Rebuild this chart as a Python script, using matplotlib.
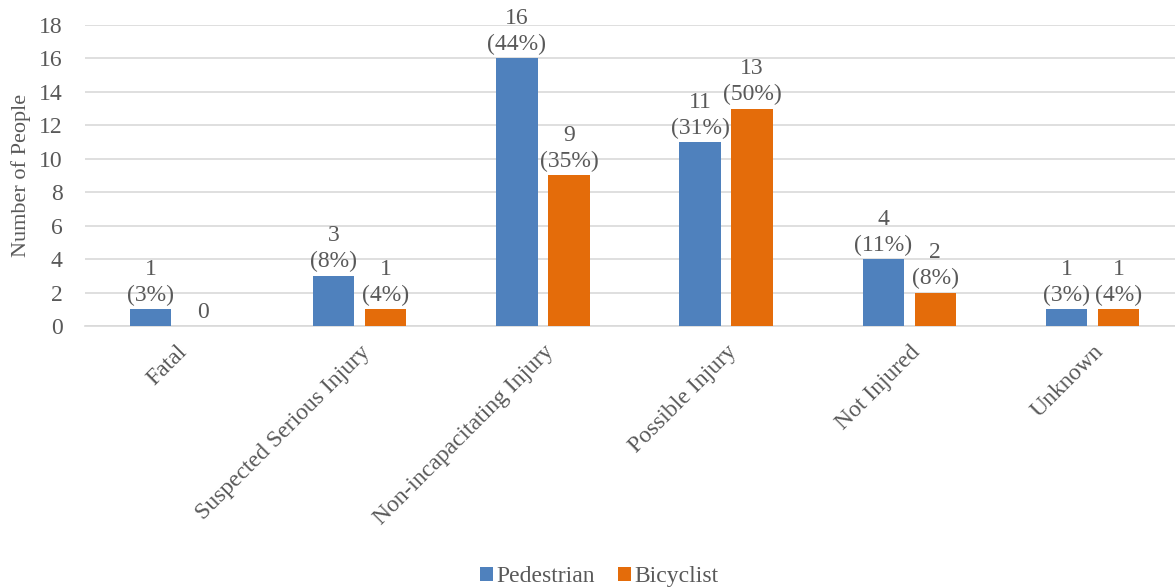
import matplotlib.pyplot as plt
import numpy as np

categories = ["Fatal", "Suspected Serious Injury", "Non-incapacitating Injury",
              "Possible Injury", "Not Injured", "Unknown"]
pedestrian = [1, 3, 16, 11, 4, 1]
bicyclist = [0, 1, 9, 13, 2, 1]
ped_pct = ["3%", "8%", "44%", "31%", "11%", "3%"]
bic_pct = [None, "4%", "35%", "50%", "8%", "4%"]

plt.rcParams['font.family'] = ['Liberation Serif', 'DejaVu Serif']
txt = '#595959'
blue = '#4F81BD'
orange = '#E46C0A'
fs = 17

fig = plt.figure(figsize=(11.75, 5.88), dpi=100)
ax = fig.add_axes([0.0723, 0.4456, 0.9354, 0.512])

x = np.arange(len(categories))
w = 0.225
off = 0.142
b1 = ax.bar(x - off, pedestrian, w, color=blue, label="Pedestrian", zorder=3)
b2 = ax.bar(x + off, bicyclist, w, color=orange, label="Bicyclist", zorder=3)

for i in range(len(categories)):
    ax.text(x[i] - off, pedestrian[i] + 0.2, "%d\n(%s)" % (pedestrian[i], ped_pct[i]),
            ha='center', va='bottom', fontsize=fs, color=txt, linespacing=1.3)
    if bic_pct[i] is None:
        lab = "%d" % bicyclist[i]
    else:
        lab = "%d\n(%s)" % (bicyclist[i], bic_pct[i])
    ax.text(x[i] + off, bicyclist[i] + 0.2, lab,
            ha='center', va='bottom', fontsize=fs, color=txt, linespacing=1.3)

ax.set_xlim(-0.5, len(categories) - 0.5)
ax.set_ylim(0, 18)
ax.set_yticks(range(0, 19, 2))
ax.yaxis.grid(True, color='#D9D9D9', linewidth=1.2, zorder=0)
ax.set_axisbelow(True)
for s in ['top', 'right', 'left']:
    ax.spines[s].set_visible(False)
ax.spines['bottom'].set_color('#D9D9D9')
ax.spines['bottom'].set_linewidth(1.2)
ax.tick_params(axis='both', length=0, labelsize=fs, colors=txt)
ax.tick_params(axis='y', pad=16)
ax.set_xticks(x)
ax.set_xticklabels(categories, rotation=45, ha='right', rotation_mode='anchor')
ax.tick_params(axis='x', pad=11)
ax.set_ylabel("Number of People", fontsize=16, color=txt, labelpad=6)

fig.legend(handles=[b1, b2], loc='lower center', bbox_to_anchor=(0.51, -0.035), ncol=2,
           frameon=False, fontsize=fs, labelcolor=txt, handlelength=0.55,
           handleheight=0.55, handletextpad=0.15, columnspacing=1.0)

plt.savefig('out.png', dpi=100)
